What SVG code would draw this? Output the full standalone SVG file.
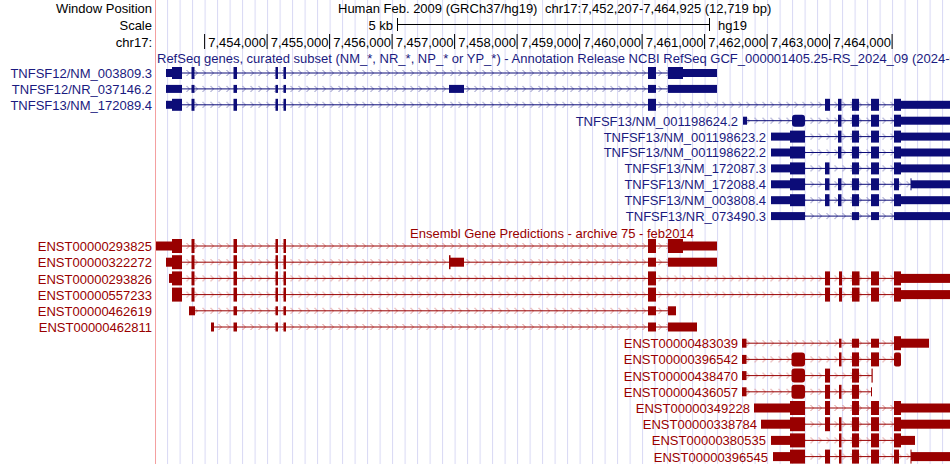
<svg xmlns="http://www.w3.org/2000/svg" width="950" height="464" viewBox="0 0 950 464">
<defs>
<pattern id="gridp" x="167.1" y="0" width="12.5" height="10" patternUnits="userSpaceOnUse"><rect x="0" y="0" width="1" height="10" fill="#d8d8f4"/></pattern>
<pattern id="chB" x="0" y="-4" width="8" height="8" patternUnits="userSpaceOnUse"><path d="M2.5,1 L5.5,4 L2.5,7" fill="none" stroke="#7a7ab8" stroke-width="0.9"/></pattern>
<pattern id="chR" x="0" y="-4" width="8" height="8" patternUnits="userSpaceOnUse"><path d="M2.5,1 L5.5,4 L2.5,7" fill="none" stroke="#d88080" stroke-width="0.9"/></pattern>
</defs>
<style>
text{font-family:"Liberation Sans",Arial,sans-serif;font-size:13px}
.hd{fill:#000}
.rl{fill:#1a1a80;text-anchor:end}
.el{fill:#990000;text-anchor:end}
.rs rect.T,.rs rect.U{fill:#0c0c78}
.en rect.T,.en rect.U{fill:#990000}
.rs line{stroke:#0c0c78;stroke-width:1}
.en line{stroke:#990000;stroke-width:1}
rect.T{height:12px;y:-6px}
rect.U{height:8px;y:-4px}
.en rect.T{height:14px;y:-7px}
.en rect.U{height:9px;y:-4.5px}
</style>
<rect x="0" y="0" width="950" height="464" fill="#fff"/>
<rect x="155" y="0" width="795" height="464" fill="url(#gridp)"/>
<line x1="155.5" y1="0" x2="155.5" y2="464" stroke="#f4a0a0" stroke-width="1"/>

<g id="header">
<text class="hd" x="152" y="13" text-anchor="end">Window Position</text>
<text class="hd" x="152" y="30" text-anchor="end">Scale</text>
<text class="hd" x="152" y="47" text-anchor="end">chr17:</text>
<text class="hd" x="338" y="13">Human Feb. 2009 (GRCh37/hg19)</text>
<text class="hd" x="545" y="13">chr17:7,452,207-7,464,925 (12,719 bp)</text>
<text class="hd" x="393" y="30" text-anchor="end">5 kb</text>
<path d="M397.5,18 V31 M397.5,24.5 H709.5 M709.5,18 V31" stroke="#000" fill="none"/>
<text class="hd" x="718" y="30">hg19</text>
<path d="M204.6,34 V49 M267.1,34 V49 M329.6,34 V49 M392.1,34 V49 M454.6,34 V49 M517.1,34 V49 M579.6,34 V49 M642.1,34 V49 M704.6,34 V49 M767.1,34 V49 M829.6,34 V49 M892.1,34 V49" stroke="#000" fill="none"/>
<g class="hd" text-anchor="end">
<text x="266" y="47">7,454,000</text><text x="328.5" y="47">7,455,000</text><text x="391" y="47">7,456,000</text><text x="453.5" y="47">7,457,000</text><text x="516" y="47">7,458,000</text><text x="578.5" y="47">7,459,000</text><text x="641" y="47">7,460,000</text><text x="703.5" y="47">7,461,000</text><text x="766" y="47">7,462,000</text><text x="828.5" y="47">7,463,000</text><text x="891" y="47">7,464,000</text>
</g>
<text x="157" y="63" fill="#1a1a80">RefSeq genes, curated subset (NM_*, NR_*, NP_* or YP_*) - Annotation Release NCBI RefSeq GCF_000001405.25-RS_2024_09 (2024-09</text>
<text x="552" y="238" fill="#990000" text-anchor="middle">Ensembl Gene Predictions - archive 75 - feb2014</text>
</g>

<g id="labels">
<text class="rl" x="152" y="78">TNFSF12/NM_003809.3</text>
<text class="rl" x="152" y="94">TNFSF12/NR_037146.2</text>
<text class="rl" x="152" y="110">TNFSF13/NM_172089.4</text>
<text class="rl" x="738" y="126">TNFSF13/NM_001198624.2</text>
<text class="rl" x="766" y="142">TNFSF13/NM_001198623.2</text>
<text class="rl" x="766" y="157">TNFSF13/NM_001198622.2</text>
<text class="rl" x="766" y="173">TNFSF13/NM_172087.3</text>
<text class="rl" x="766" y="189">TNFSF13/NM_172088.4</text>
<text class="rl" x="766" y="205">TNFSF13/NM_003808.4</text>
<text class="rl" x="766" y="221">TNFSF13/NR_073490.3</text>
<text class="el" x="152" y="251">ENST00000293825</text>
<text class="el" x="152" y="267">ENST00000322272</text>
<text class="el" x="152" y="284">ENST00000293826</text>
<text class="el" x="152" y="300">ENST00000557233</text>
<text class="el" x="152" y="316">ENST00000462619</text>
<text class="el" x="152" y="332">ENST00000462811</text>
<text class="el" x="738" y="348">ENST00000483039</text>
<text class="el" x="738" y="364">ENST00000396542</text>
<text class="el" x="738" y="381">ENST00000438470</text>
<text class="el" x="738" y="397">ENST00000436057</text>
<text class="el" x="750" y="413">ENST00000349228</text>
<text class="el" x="757" y="429">ENST00000338784</text>
<text class="el" x="766" y="445">ENST00000380535</text>
<text class="el" x="768" y="462">ENST00000396545</text>
</g>

<g id="refseq" class="rs">
<g id="NM_003809" transform="translate(0,73)"><rect fill="url(#chB)" x="166" y="-4" width="551" height="8"/><line x1="166" y1="0" x2="717" y2="0"/>
<rect class="U" x="166" width="6"/><rect class="T" x="172" width="10"/><rect class="T" x="191.5" width="3"/><rect class="T" x="233.5" width="3.5"/><rect class="T" x="275.5" width="2.5"/><rect class="T" x="283.5" width="2.5"/><rect class="T" x="648" width="8"/><rect class="T" x="668" width="15"/><rect class="U" x="683" width="34"/></g>
<g id="NR_037146" transform="translate(0,88.9)"><rect fill="url(#chB)" x="166" y="-4" width="551" height="8"/><line x1="166" y1="0" x2="717" y2="0"/>
<rect class="U" x="166" width="16"/><rect class="U" x="191.5" width="3"/><rect class="U" x="233.5" width="3.5"/><rect class="U" x="275.5" width="2.5"/><rect class="U" x="283.5" width="2.5"/><rect class="U" x="449" width="15"/><rect class="U" x="648" width="8"/><rect class="U" x="668" width="49"/></g>
<g id="NM_172089" transform="translate(0,104.8)"><rect fill="url(#chB)" x="166" y="-4" width="784" height="8"/><line x1="166" y1="0" x2="950" y2="0"/>
<rect class="U" x="166" width="6"/><rect class="T" x="172" width="10"/><rect class="T" x="191.5" width="3"/><rect class="T" x="233.5" width="3.5"/><rect class="T" x="275.5" width="2.5"/><rect class="T" x="283.5" width="2.5"/><rect class="T" x="648" width="8"/><rect class="T" x="825" width="5"/><rect class="T" x="838" width="3.5"/><rect class="T" x="852" width="7"/><rect class="T" x="871" width="8"/><rect class="T" x="894" width="7"/><rect class="U" x="901" width="49"/></g>
<g id="NM_001198624" transform="translate(0,120.7)"><rect fill="url(#chB)" x="743" y="-4" width="207" height="8"/><line x1="743" y1="0" x2="950" y2="0"/>
<rect class="U" x="743" width="4"/><rect class="T" x="792" width="13" rx="3"/><rect class="T" x="838" width="3.5"/><rect class="T" x="852" width="7"/><rect class="T" x="871" width="8"/><rect class="T" x="894" width="7"/><rect class="U" x="901" width="49"/></g>
<g id="NM_001198623" transform="translate(0,136.6)"><rect fill="url(#chB)" x="771" y="-4" width="179" height="8"/><line x1="771" y1="0" x2="950" y2="0"/>
<rect class="U" x="771" width="19"/><rect class="T" x="790" width="15"/><rect class="T" x="838" width="3.5"/><rect class="T" x="852" width="7"/><rect class="T" x="871" width="8"/><rect class="T" x="894" width="7"/><rect class="U" x="901" width="49"/></g>
<g id="NM_001198622" transform="translate(0,152.5)"><rect fill="url(#chB)" x="771" y="-4" width="179" height="8"/><line x1="771" y1="0" x2="950" y2="0"/>
<rect class="U" x="771" width="19"/><rect class="T" x="790" width="15"/><rect class="T" x="838" width="3.5"/><rect class="T" x="852" width="7"/><rect class="T" x="871" width="8"/><rect class="T" x="894" width="7"/><rect class="U" x="901" width="49"/></g>
<g id="NM_172087" transform="translate(0,168.4)"><rect fill="url(#chB)" x="771" y="-4" width="179" height="8"/><line x1="771" y1="0" x2="950" y2="0"/>
<rect class="U" x="771" width="19"/><rect class="T" x="790" width="15"/><rect class="T" x="825" width="4.5"/><rect class="T" x="852" width="7"/><rect class="T" x="871" width="8"/><rect class="T" x="894" width="7"/><rect class="U" x="901" width="49"/></g>
<g id="NM_172088" transform="translate(0,184.3)"><rect fill="url(#chB)" x="771" y="-4" width="179" height="8"/><line x1="771" y1="0" x2="950" y2="0"/>
<rect class="U" x="771" width="19"/><rect class="T" x="790" width="15"/><rect class="T" x="825" width="4.5"/><rect class="T" x="838" width="3.5"/><rect class="T" x="852" width="7"/><rect class="T" x="871" width="8"/><rect class="T" x="894" width="5"/><rect class="T" x="910.5" width="1"/><rect class="U" x="911" width="39"/></g>
<g id="NM_003808" transform="translate(0,200.2)"><rect fill="url(#chB)" x="771" y="-4" width="179" height="8"/><line x1="771" y1="0" x2="950" y2="0"/>
<rect class="U" x="771" width="19"/><rect class="T" x="790" width="15"/><rect class="T" x="825" width="4.5"/><rect class="T" x="838" width="3.5"/><rect class="T" x="852" width="7"/><rect class="T" x="871" width="8"/><rect class="T" x="894" width="7"/><rect class="U" x="901" width="49"/></g>
<g id="NR_073490" transform="translate(0,216.1)"><rect fill="url(#chB)" x="771" y="-4" width="179" height="8"/><line x1="771" y1="0" x2="950" y2="0"/>
<rect class="U" x="771" width="34"/><rect class="U" x="852" width="7"/><rect class="U" x="871" width="8"/><rect class="U" x="894" width="56"/></g>
</g>

<g id="ensembl" class="en">
<g id="E293825" transform="translate(0,246)"><rect fill="url(#chR)" x="156" y="-4" width="561" height="8"/><line x1="156" y1="0" x2="717" y2="0"/>
<rect class="U" x="156" width="16"/><rect class="T" x="172" width="10"/><rect class="T" x="191.5" width="3"/><rect class="T" x="233.5" width="3.5"/><rect class="T" x="275.5" width="2.5"/><rect class="T" x="283.5" width="2.5"/><rect class="T" x="648" width="8"/><rect class="T" x="668" width="15"/><rect class="U" x="683" width="34"/></g>
<g id="E322272" transform="translate(0,262.2)"><rect fill="url(#chR)" x="166" y="-4" width="551" height="8"/><line x1="166" y1="0" x2="717" y2="0"/>
<rect class="U" x="166" width="6"/><rect class="T" x="172" width="10"/><rect class="T" x="191.5" width="3"/><rect class="T" x="233.5" width="3.5"/><rect class="T" x="275.5" width="2.5"/><rect class="T" x="283.5" width="2.5"/><rect class="T" x="449" width="1.5"/><rect class="U" x="450" width="14"/><rect class="U" x="648" width="8"/><rect class="U" x="668" width="49"/></g>
<g id="E293826" transform="translate(0,278.4)"><rect fill="url(#chR)" x="169" y="-4" width="781" height="8"/><line x1="169" y1="0" x2="950" y2="0"/>
<rect class="U" x="169" width="3"/><rect class="T" x="172" width="10"/><rect class="T" x="191.5" width="3"/><rect class="T" x="233.5" width="3.5"/><rect class="T" x="275.5" width="2.5"/><rect class="T" x="283.5" width="2.5"/><rect class="T" x="648" width="8"/><rect class="T" x="825" width="5"/><rect class="T" x="839" width="3"/><rect class="T" x="852" width="7.5"/><rect class="T" x="871" width="8"/><rect class="T" x="894" width="7"/><rect class="U" x="901" width="49"/></g>
<g id="E557233" transform="translate(0,294.6)"><rect fill="url(#chR)" x="172" y="-4" width="778" height="8"/><line x1="172" y1="0" x2="950" y2="0"/>
<rect class="T" x="172" width="10"/><rect class="T" x="191.5" width="3"/><rect class="T" x="233.5" width="3.5"/><rect class="T" x="275.5" width="2.5"/><rect class="T" x="283.5" width="2.5"/><rect class="T" x="648" width="8"/><rect class="T" x="825" width="5"/><rect class="T" x="839" width="3"/><rect class="T" x="852" width="7.5"/><rect class="T" x="871" width="8"/><rect class="T" x="894" width="7"/><rect class="U" x="901" width="49"/></g>
<g id="E462619" transform="translate(0,310.8)"><rect fill="url(#chR)" x="189" y="-4" width="487" height="8"/><line x1="189" y1="0" x2="676" y2="0"/>
<rect class="U" x="189" width="6"/><rect class="U" x="233.5" width="3.5"/><rect class="U" x="275.5" width="2.5"/><rect class="U" x="283.5" width="2.5"/><rect class="U" x="648" width="8"/><rect class="U" x="668" width="8"/></g>
<g id="E462811" transform="translate(0,327)"><rect fill="url(#chR)" x="211" y="-4" width="486" height="8"/><line x1="211" y1="0" x2="697" y2="0"/>
<rect class="U" x="211" width="3"/><rect class="U" x="233.5" width="3.5"/><rect class="U" x="275.5" width="2.5"/><rect class="U" x="283.5" width="2.5"/><rect class="U" x="648" width="8"/><rect class="U" x="668" width="29"/></g>
<g id="E483039" transform="translate(0,343.2)"><rect fill="url(#chR)" x="742" y="-4" width="187" height="8"/><line x1="742" y1="0" x2="929" y2="0"/>
<rect class="U" x="742" width="4.5"/><rect class="U" x="839" width="2.5"/><rect class="U" x="852" width="7"/><rect class="U" x="871" width="8"/><rect class="T" x="894" width="7"/><rect class="U" x="901" width="28"/></g>
<g id="E396542" transform="translate(0,359.4)"><rect fill="url(#chR)" x="742" y="-4" width="159" height="8"/><line x1="742" y1="0" x2="901" y2="0"/>
<rect class="U" x="742" width="4.5"/><rect class="T" x="791.5" width="13.5" rx="3"/><rect class="T" x="839" width="2.5"/><rect class="T" x="852" width="7"/><rect class="T" x="871" width="8"/><rect class="T" x="894" width="7" rx="2"/></g>
<g id="E438470" transform="translate(0,375.6)"><rect fill="url(#chR)" x="742" y="-4" width="130" height="8"/><line x1="742" y1="0" x2="872" y2="0"/>
<rect class="U" x="742" width="4.5"/><rect class="T" x="791.5" width="13.5" rx="3"/><rect class="T" x="825" width="5"/><rect class="T" x="852" width="7"/><rect class="T" x="871.5" width="1.2"/></g>
<g id="E436057" transform="translate(0,391.8)"><rect fill="url(#chR)" x="742" y="-4" width="130" height="8"/><line x1="742" y1="0" x2="871" y2="0"/>
<rect class="U" x="742" width="4.5"/><rect class="T" x="791.5" width="13.5" rx="3"/><rect class="T" x="825" width="5"/><rect class="T" x="839" width="2.5"/><rect class="T" x="852" width="7"/><rect class="U" x="871" width="1"/></g>
<g id="E349228" transform="translate(0,408)"><rect fill="url(#chR)" x="754" y="-4" width="196" height="8"/><line x1="754" y1="0" x2="950" y2="0"/>
<rect class="U" x="754" width="36"/><rect class="T" x="790" width="15"/><rect class="T" x="825" width="5"/><rect class="T" x="852" width="7"/><rect class="T" x="871" width="8"/><rect class="T" x="894" width="7"/><rect class="U" x="901" width="49"/></g>
<g id="E338784" transform="translate(0,424.2)"><rect fill="url(#chR)" x="761" y="-4" width="189" height="8"/><line x1="761" y1="0" x2="950" y2="0"/>
<rect class="U" x="761" width="29"/><rect class="T" x="790" width="15"/><rect class="T" x="825" width="5"/><rect class="T" x="839" width="2.5"/><rect class="T" x="852" width="7"/><rect class="T" x="871" width="8"/><rect class="T" x="894" width="7"/><rect class="U" x="901" width="49"/></g>
<g id="E380535" transform="translate(0,440.4)"><rect fill="url(#chR)" x="771" y="-4" width="144" height="8"/><line x1="771" y1="0" x2="915" y2="0"/>
<rect class="U" x="771" width="19"/><rect class="T" x="790" width="15"/><rect class="T" x="839" width="2.5"/><rect class="T" x="852" width="7"/><rect class="T" x="871" width="8"/><rect class="T" x="894" width="7"/><rect class="U" x="901" width="14"/></g>
<g id="E396545" transform="translate(0,456.6)"><rect fill="url(#chR)" x="773" y="-4" width="177" height="8"/><line x1="773" y1="0" x2="950" y2="0"/>
<rect class="U" x="773" width="17"/><rect class="T" x="790" width="15"/><rect class="T" x="825" width="5"/><rect class="T" x="839" width="2.5"/><rect class="T" x="852" width="7"/><rect class="T" x="871" width="8"/><rect class="T" x="894" width="5"/><rect class="T" x="910.5" width="1"/><rect class="U" x="911" width="39"/></g>
</g>
</svg>
